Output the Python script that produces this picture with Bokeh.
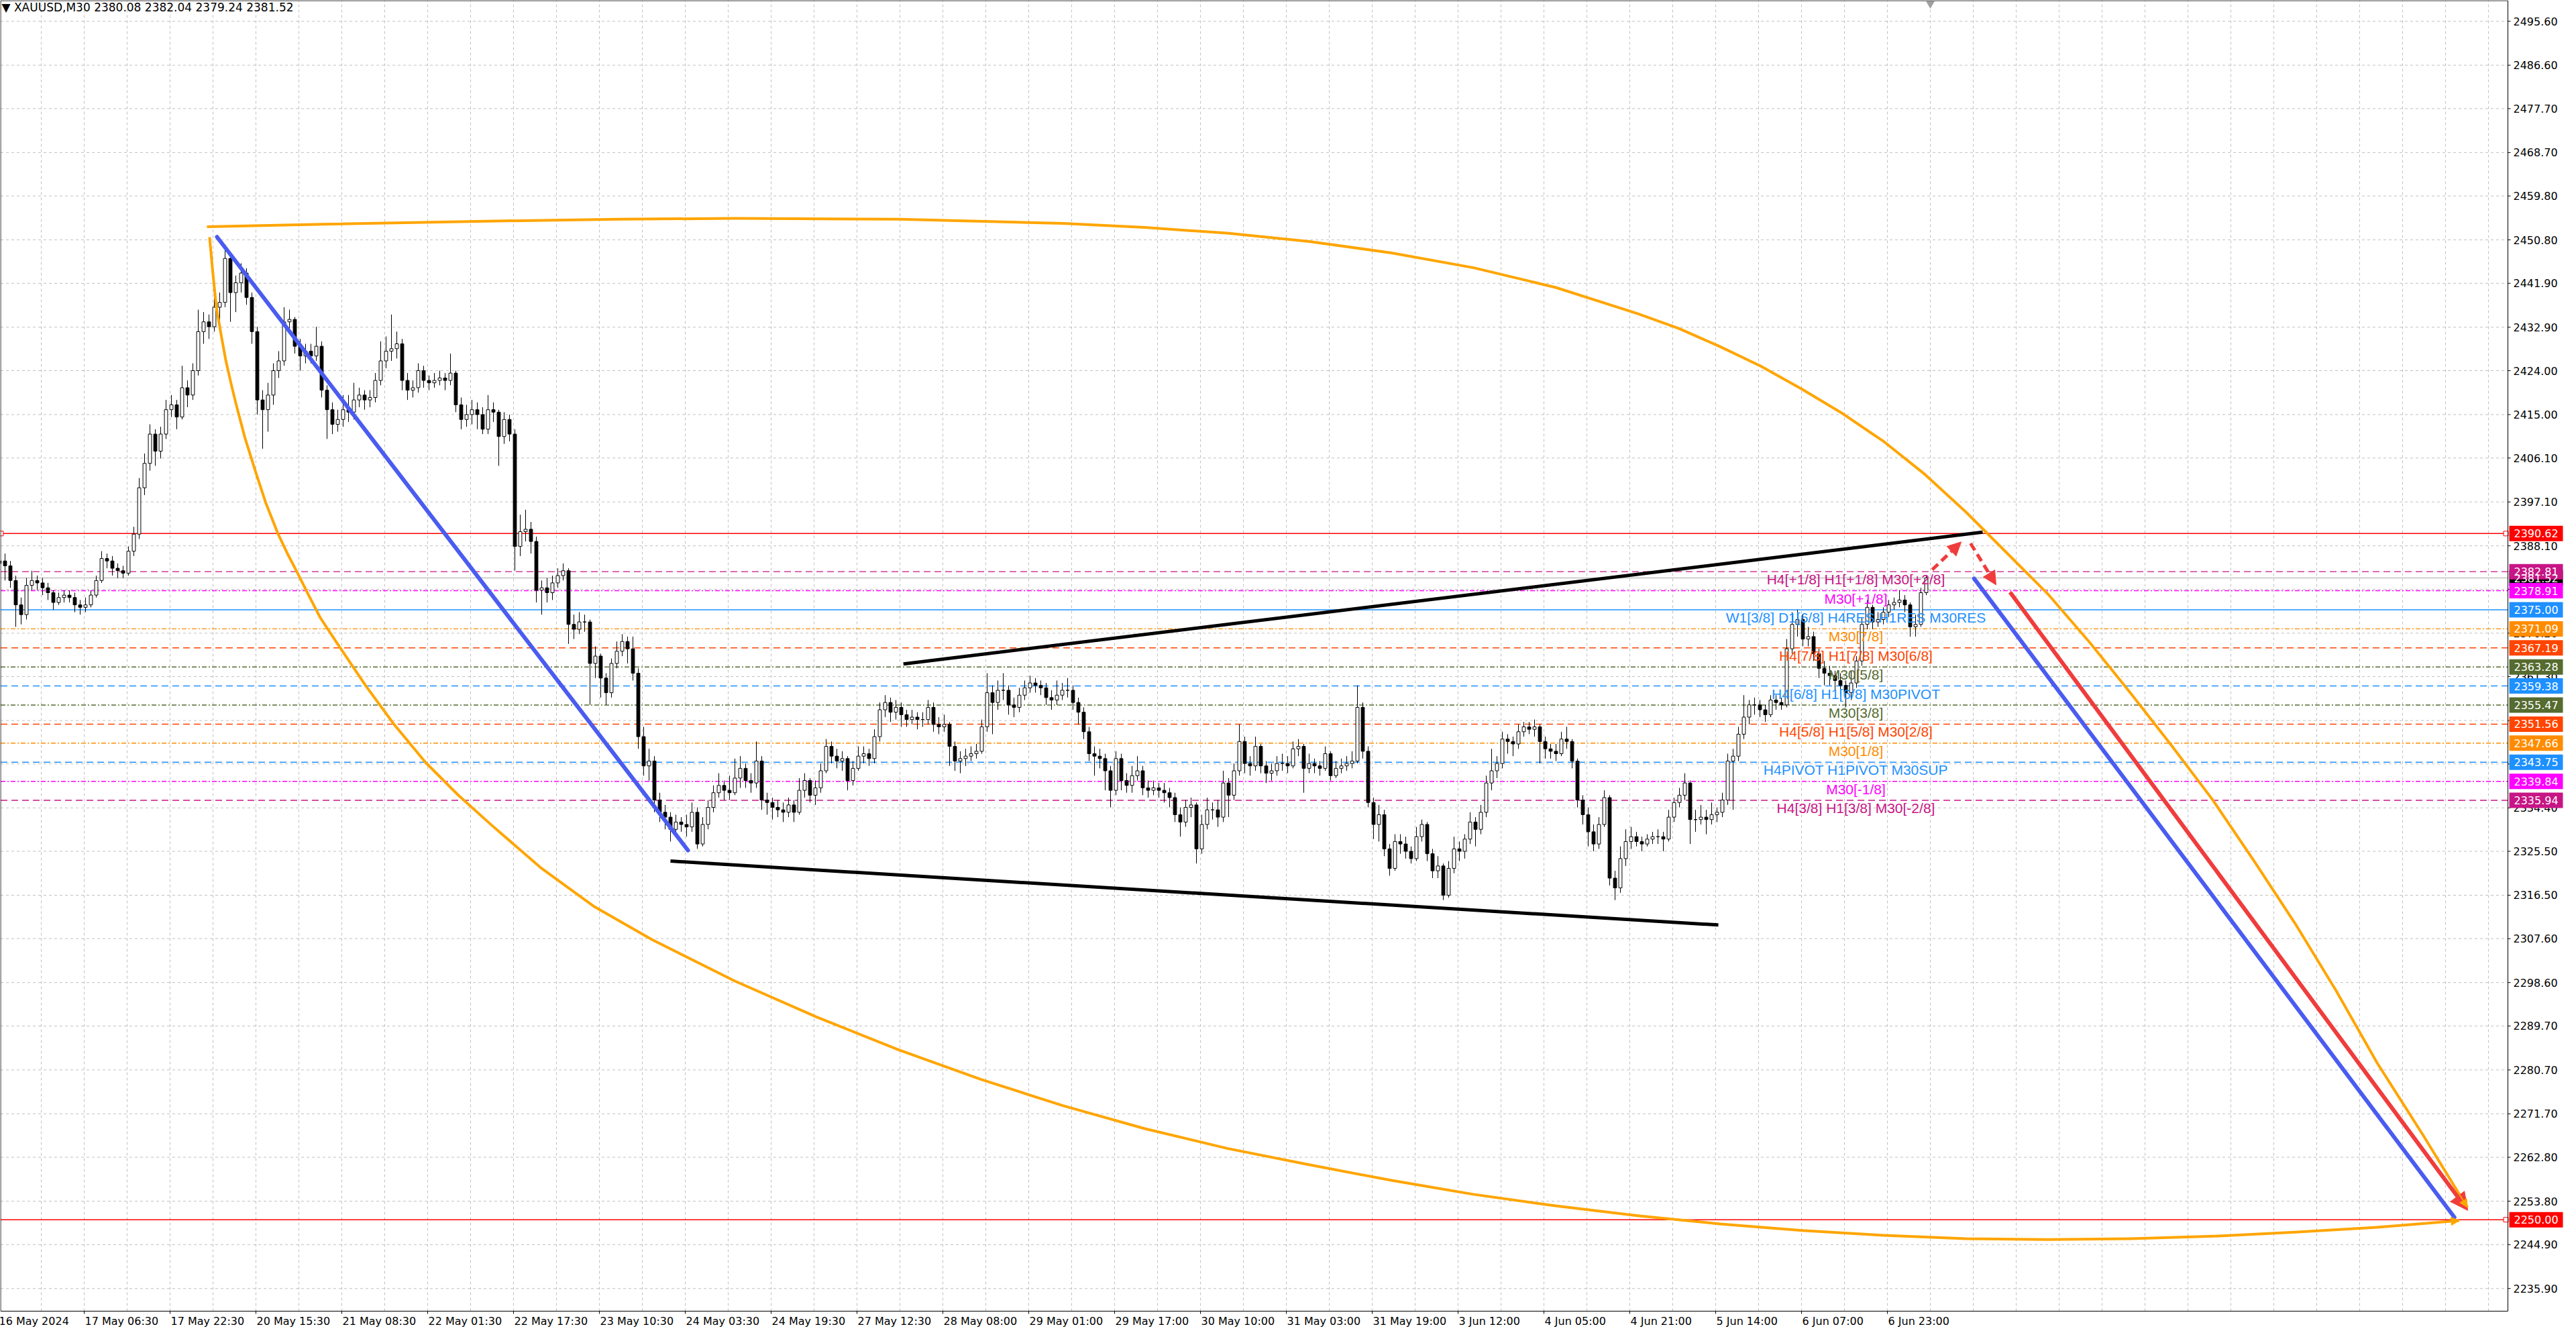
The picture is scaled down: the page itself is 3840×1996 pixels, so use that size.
from bokeh.plotting import figure
from bokeh.models import ColumnDataSource, Arrow, NormalHead, Range1d
from bokeh.core.properties import value
from bokeh.embed import file_html
from bokeh.resources import INLINE

# ------------------------------------------------------------------ data
header_text = "\u25BC  XAUUSD,M30  2380.08 2382.04 2379.24 2381.52"
first_open = 2384.5

close = [
    2385.0, 2384.0, 2381.0, 2376.0, 2374.0, 2380.0, 2381.0, 2380.5, 2379.5, 2378.5,
    2376.5, 2377.5, 2378.0, 2377.5, 2376.0, 2375.5, 2376.0, 2378.0, 2381.0, 2385.5,
    2385.0, 2383.5, 2383.0, 2382.5, 2387.0, 2390.5, 2400.0, 2405.0, 2411.0, 2407.5,
    2411.0, 2416.0, 2417.0, 2414.5, 2420.5, 2419.0, 2424.0, 2432.0, 2434.0, 2433.0,
    2437.0, 2438.0, 2447.0, 2440.0, 2442.0, 2444.0, 2439.0, 2432.0, 2418.0, 2416.0,
    2419.0, 2424.0, 2426.0, 2434.0, 2434.5, 2429.0, 2427.0, 2428.0, 2427.0, 2429.0,
    2420.0, 2416.0, 2413.0, 2414.0, 2416.0, 2415.5, 2418.0, 2419.0, 2418.0, 2418.5,
    2422.0, 2426.0, 2428.0, 2428.5, 2429.5, 2422.0, 2420.0, 2420.5, 2424.0, 2422.0,
    2421.5, 2422.0, 2422.5, 2422.0, 2423.5, 2417.0, 2414.0, 2415.0, 2416.0, 2415.0,
    2412.0, 2416.0, 2415.5, 2410.5, 2414.0, 2411.0, 2388.0, 2391.0, 2391.5, 2389.0,
    2379.0, 2379.5, 2378.5, 2380.5, 2382.0, 2383.0, 2372.0, 2371.0, 2372.5, 2372.5,
    2364.0, 2365.5, 2361.0, 2358.0, 2364.0, 2366.5, 2368.5, 2367.0, 2362.0, 2349.0,
    2343.0, 2344.0, 2336.0, 2333.5, 2332.5, 2330.0, 2331.5, 2331.0, 2330.5, 2333.5,
    2327.0, 2331.0, 2334.5, 2337.5, 2339.0, 2338.0, 2337.5, 2340.5, 2342.5, 2340.0,
    2339.5, 2344.0, 2336.0, 2335.5, 2334.5, 2334.0, 2333.5, 2335.0, 2333.5, 2338.0,
    2340.0, 2337.0, 2338.5, 2342.0, 2347.0, 2345.0, 2344.0, 2344.5, 2340.0, 2342.5,
    2345.0, 2345.5, 2344.5, 2349.0, 2354.5, 2356.0, 2354.0, 2355.0, 2353.5, 2352.5,
    2353.0, 2352.5, 2352.5, 2355.0, 2351.5, 2351.0, 2351.5, 2347.0, 2344.0, 2344.5,
    2345.0, 2345.5, 2346.0, 2351.0, 2358.0, 2356.0, 2358.5, 2358.5, 2355.5, 2355.0,
    2357.5, 2359.0, 2360.0, 2359.5, 2359.0, 2357.0, 2356.5, 2357.5, 2358.5, 2358.5,
    2356.0, 2354.0, 2350.0, 2345.5, 2345.0, 2344.5, 2342.0, 2338.0, 2344.5, 2340.0,
    2339.0, 2341.0, 2342.0, 2338.5, 2338.0, 2338.5, 2338.0, 2337.5, 2336.5, 2333.0,
    2331.5, 2334.5, 2335.0, 2326.0, 2331.0, 2334.0, 2334.0, 2332.5, 2339.5, 2337.0,
    2342.0, 2348.0, 2343.5, 2343.0, 2347.0, 2343.0, 2341.5, 2342.0, 2343.5, 2343.5,
    2343.0, 2346.5, 2347.0, 2342.5, 2343.5, 2343.0, 2342.5, 2345.5, 2341.0, 2342.5,
    2343.0, 2343.5, 2344.0, 2355.0, 2346.0, 2335.5, 2331.0, 2333.0, 2326.0, 2322.0,
    2327.5, 2327.0, 2325.5, 2324.0, 2328.5, 2331.0, 2325.0, 2321.5, 2322.5, 2316.5,
    2322.0, 2326.0, 2325.5, 2328.0, 2331.5, 2330.0, 2333.5, 2339.5, 2342.0, 2343.5,
    2348.5, 2348.0, 2347.5, 2350.0, 2351.0, 2350.5, 2351.0, 2348.0, 2346.5, 2346.0,
    2345.5, 2348.5, 2348.0, 2344.0, 2336.0, 2333.0, 2329.5, 2327.0, 2331.0, 2336.5,
    2320.0, 2318.0, 2324.0, 2327.5, 2328.5, 2327.5, 2327.0, 2328.0, 2328.5, 2328.5,
    2328.0, 2332.5, 2335.5, 2337.0, 2339.5, 2332.0, 2332.0, 2332.5, 2332.0, 2333.0,
    2333.5, 2336.0, 2344.0, 2345.0, 2349.5, 2353.0, 2355.5, 2355.5, 2354.5, 2353.5,
    2356.5, 2356.0, 2355.5, 2367.0, 2372.0, 2373.0, 2369.0, 2369.5, 2366.0, 2363.0,
    2362.0, 2361.5, 2360.5, 2359.5, 2358.0, 2360.0, 2364.5, 2372.0, 2375.5, 2372.5,
    2373.0, 2374.5, 2376.0, 2376.5, 2377.0, 2376.0, 2371.5, 2372.0, 2378.5, 2381.52,
]

high = [
    2387.0, 2386.5, 2385.0, 2382.0, 2377.5, 2381.5, 2383.0, 2382.0, 2381.5, 2380.5,
    2379.0, 2378.5, 2379.0, 2379.0, 2378.5, 2377.0, 2377.5, 2379.0, 2382.0, 2387.0,
    2386.5, 2386.0, 2384.5, 2384.0, 2388.0, 2392.0, 2402.0, 2407.0, 2413.0, 2412.0,
    2412.5, 2418.0, 2419.0, 2418.0, 2425.0, 2422.0, 2425.5, 2436.5, 2436.0, 2435.5,
    2439.0, 2440.0, 2449.8, 2448.0, 2443.5, 2446.0, 2445.0, 2440.0, 2433.0, 2420.0,
    2421.5, 2425.5, 2428.0, 2437.0, 2436.5, 2435.0, 2430.5, 2429.5, 2429.5, 2433.0,
    2430.0, 2421.0, 2417.5, 2416.0, 2419.0, 2419.0, 2421.5, 2420.5, 2420.0, 2420.0,
    2423.5, 2430.0, 2431.0, 2435.5, 2432.0, 2430.5, 2423.5, 2422.0, 2425.5, 2425.0,
    2423.0, 2423.5, 2424.0, 2423.5, 2427.5, 2424.0, 2418.5, 2417.0, 2418.0, 2417.5,
    2416.5, 2419.0, 2417.5, 2416.0, 2415.5, 2415.0, 2412.0, 2394.5, 2395.5, 2393.0,
    2390.0, 2381.0, 2381.5, 2382.0, 2383.5, 2384.5, 2383.5, 2374.0, 2374.5, 2374.0,
    2373.0, 2367.5, 2366.0, 2362.0, 2365.0, 2368.5, 2370.0, 2369.5, 2369.5, 2363.0,
    2351.0, 2346.5, 2345.0, 2337.5, 2335.0, 2333.5, 2333.0, 2332.5, 2333.0, 2335.5,
    2334.5, 2332.5, 2336.0, 2339.0, 2341.5, 2340.0, 2341.0, 2344.5, 2345.0, 2343.5,
    2341.5, 2348.0, 2345.0, 2337.5, 2336.5, 2336.0, 2335.5, 2336.5, 2336.0, 2340.5,
    2341.5, 2340.5, 2340.0, 2343.5, 2348.5, 2348.0, 2346.5, 2346.0, 2345.0, 2344.0,
    2347.0, 2347.0, 2346.5, 2350.5, 2356.0, 2357.5, 2357.0, 2356.5, 2356.0, 2354.5,
    2354.5, 2354.0, 2354.0, 2356.5, 2356.0, 2353.0, 2353.5, 2352.0, 2348.0, 2346.0,
    2346.5, 2347.0, 2347.5, 2352.5, 2362.0, 2359.5, 2360.5, 2362.0, 2359.5, 2357.0,
    2359.0, 2360.5, 2361.5, 2361.0, 2360.5, 2360.0, 2358.5, 2360.5, 2360.0, 2361.0,
    2359.5, 2357.0, 2355.0, 2351.0, 2347.0, 2346.5, 2345.5, 2343.0, 2346.0, 2345.5,
    2341.5, 2343.0, 2345.0, 2343.0, 2340.0, 2340.0, 2339.5, 2339.5, 2338.5, 2337.5,
    2334.5, 2336.0, 2336.5, 2335.5, 2333.0, 2336.5, 2335.5, 2336.0, 2342.0, 2340.5,
    2343.5, 2351.5, 2349.0, 2345.0, 2349.0, 2347.5, 2344.0, 2343.5, 2345.0, 2345.5,
    2345.0, 2348.0, 2348.5, 2347.5, 2345.5, 2344.5, 2344.0, 2347.0, 2346.0, 2344.0,
    2344.5, 2345.0, 2346.0, 2359.5, 2356.0, 2347.0, 2336.5, 2335.0, 2334.0, 2327.0,
    2329.0, 2329.0, 2328.5, 2326.5, 2330.5, 2332.0, 2331.5, 2326.0, 2324.5, 2323.0,
    2323.5, 2328.5, 2327.5, 2329.0, 2333.5, 2332.5, 2335.0, 2341.0, 2346.5, 2345.0,
    2350.0, 2349.5, 2349.0, 2351.5, 2352.0, 2352.0, 2352.5, 2351.5, 2349.0, 2347.5,
    2347.5, 2350.0, 2351.0, 2348.5, 2344.5, 2337.0, 2334.5, 2331.0, 2332.5, 2338.0,
    2337.0, 2321.5, 2326.5, 2330.0, 2330.5, 2329.5, 2328.5, 2329.0, 2329.5, 2330.0,
    2329.5, 2334.0, 2336.5, 2338.5, 2341.5, 2340.0, 2334.0, 2335.0, 2334.0, 2335.5,
    2334.5, 2337.5, 2345.5, 2346.5, 2351.0, 2357.5, 2356.5, 2357.0, 2356.5, 2355.5,
    2357.5, 2357.5, 2357.0, 2369.0, 2374.5, 2375.0, 2374.0, 2371.5, 2370.5, 2367.0,
    2364.5, 2363.5, 2362.5, 2362.0, 2360.5, 2362.5, 2365.5, 2373.5, 2377.0, 2376.0,
    2374.5, 2375.5, 2377.0, 2377.5, 2379.0, 2378.0, 2376.5, 2374.0, 2379.5, 2382.04,
]

low = [
    2382.5, 2381.0, 2379.5, 2371.5, 2372.0, 2373.0, 2379.0, 2379.0, 2378.0, 2377.0,
    2375.0, 2376.0, 2376.5, 2376.5, 2374.5, 2374.0, 2374.5, 2375.5, 2377.5, 2380.5,
    2383.5, 2382.0, 2381.5, 2381.5, 2382.0, 2386.0, 2389.5, 2398.5, 2403.5, 2404.5,
    2406.0, 2410.0, 2414.5, 2412.0, 2414.0, 2416.5, 2418.0, 2423.0, 2429.5, 2430.5,
    2432.0, 2434.0, 2437.0, 2434.0, 2436.0, 2440.0, 2437.5, 2429.5, 2415.0, 2408.0,
    2411.5, 2417.0, 2422.5, 2425.0, 2432.0, 2427.5, 2424.0, 2425.5, 2425.5, 2426.0,
    2418.5, 2410.0, 2411.0, 2411.5, 2412.5, 2413.5, 2414.0, 2416.5, 2416.0, 2416.5,
    2417.5, 2421.0, 2424.5, 2426.0, 2426.5, 2420.0, 2418.0, 2418.5, 2419.5, 2420.5,
    2420.0, 2420.5, 2421.0, 2420.0, 2421.0, 2415.5, 2412.0, 2412.5, 2413.0, 2412.0,
    2411.0, 2411.0, 2413.5, 2404.5, 2409.0, 2409.5, 2383.0, 2386.0, 2389.0, 2386.5,
    2376.5, 2374.0, 2376.5, 2377.0, 2379.5, 2381.0, 2368.0, 2369.0, 2370.0, 2370.5,
    2355.5, 2361.0, 2357.0, 2355.5, 2357.0, 2363.0, 2365.5, 2364.0, 2360.5, 2346.5,
    2341.0, 2340.0, 2333.5, 2331.5, 2330.0, 2327.5, 2329.0, 2329.5, 2328.5, 2329.5,
    2326.0, 2326.5, 2330.0, 2333.5, 2336.5, 2336.0, 2336.0, 2337.0, 2338.5, 2338.5,
    2337.5, 2338.5, 2334.0, 2333.0, 2332.0, 2332.5, 2331.5, 2332.5, 2331.5, 2333.0,
    2336.5, 2335.5, 2335.0, 2337.5, 2341.5, 2343.5, 2342.5, 2342.0, 2338.0, 2339.0,
    2342.0, 2343.5, 2343.0, 2343.5, 2348.0, 2353.0, 2352.0, 2352.5, 2351.0, 2351.0,
    2351.5, 2350.5, 2351.0, 2351.5, 2350.0, 2349.5, 2350.0, 2343.0, 2342.0, 2341.5,
    2343.0, 2344.0, 2344.5, 2345.5, 2350.0, 2349.5, 2354.5, 2356.5, 2353.5, 2353.0,
    2354.0, 2356.5, 2358.0, 2358.0, 2357.5, 2355.5, 2354.5, 2355.5, 2356.5, 2357.0,
    2354.5, 2351.5, 2348.5, 2344.0, 2341.0, 2342.5, 2338.0, 2334.5, 2337.0, 2338.0,
    2337.5, 2337.5, 2340.0, 2337.0, 2336.5, 2337.0, 2336.5, 2335.5, 2334.5, 2331.5,
    2328.5, 2330.5, 2332.5, 2323.0, 2325.0, 2330.0, 2332.0, 2330.5, 2331.5, 2332.5,
    2336.0, 2341.0, 2341.5, 2341.0, 2342.0, 2341.5, 2339.5, 2340.0, 2341.0, 2342.0,
    2341.5, 2342.5, 2345.0, 2337.5, 2341.5, 2341.5, 2341.0, 2342.0, 2340.0, 2340.5,
    2341.5, 2342.0, 2342.5, 2343.5, 2344.5, 2334.5, 2328.0, 2327.5, 2324.5, 2320.5,
    2321.5, 2325.0, 2324.0, 2323.0, 2323.5, 2327.5, 2323.5, 2320.0, 2320.0, 2315.5,
    2316.0, 2321.0, 2323.5, 2324.0, 2327.0, 2326.5, 2329.0, 2332.5, 2338.0, 2340.5,
    2342.5, 2345.5, 2345.0, 2346.5, 2349.0, 2349.5, 2349.0, 2343.5, 2344.5, 2344.5,
    2344.0, 2345.0, 2346.5, 2342.5, 2334.5, 2331.0, 2326.5, 2325.5, 2326.0, 2330.5,
    2318.5, 2315.5, 2317.0, 2322.5, 2326.0, 2326.5, 2325.5, 2326.5, 2327.0, 2327.0,
    2325.5, 2327.5, 2331.5, 2334.5, 2336.0, 2327.0, 2329.5, 2331.0, 2329.0, 2331.0,
    2331.5, 2332.5, 2335.0, 2334.0, 2344.0, 2348.5, 2351.5, 2353.5, 2353.0, 2352.0,
    2353.0, 2354.5, 2354.5, 2355.0, 2366.0, 2369.5, 2367.5, 2367.5, 2364.5, 2361.0,
    2359.5, 2359.5, 2358.5, 2357.5, 2355.0, 2356.5, 2359.0, 2363.5, 2371.0, 2371.0,
    2371.5, 2372.0, 2373.5, 2375.0, 2375.5, 2374.5, 2369.5, 2369.5, 2371.5, 2378.0,
]

date_labels = [
    "16 May 2024", "17 May 06:30", "17 May 22:30", "20 May 15:30", "21 May 08:30",
    "22 May 01:30", "22 May 17:30", "23 May 10:30", "24 May 03:30", "24 May 19:30",
    "27 May 12:30", "28 May 08:00", "29 May 01:00", "29 May 17:00", "30 May 10:00",
    "31 May 03:00", "31 May 19:00", "3 Jun 12:00", "4 Jun 05:00", "4 Jun 21:00",
    "5 Jun 14:00", "6 Jun 07:00", "6 Jun 23:00",
]
bars_per_date_label = 16   # hourly bars between two time labels

price_tick_labels = [
    "2495.60", "2486.60", "2477.70", "2468.70", "2459.80", "2450.80", "2441.90",
    "2432.90", "2424.00", "2415.00", "2406.10", "2397.10", "2388.10", "2379.20",
    "2370.20", "2361.30", "2352.30", "2343.40", "2334.40", "2325.50", "2316.50",
    "2307.60", "2298.60", "2289.70", "2280.70", "2271.70", "2262.80", "2253.80",
    "2244.90", "2235.90",
]

# Murrey-math levels (price, caption, colour, style)
level_prices = [2382.81, 2378.91, 2375.00, 2371.09, 2367.19, 2363.28, 2359.38,
                2355.47, 2351.56, 2347.66, 2343.75, 2339.84, 2335.94]
level_names = ["H4[+1/8] H1[+1/8] M30[+2/8]", "M30[+1/8]",
               "W1[3/8] D1[6/8] H4RES H1RES M30RES", "M30[7/8]",
               "H4[7/8] H1[7/8] M30[6/8]", "M30[5/8]", "H4[6/8] H1[6/8] M30PIVOT",
               "M30[3/8]", "H4[5/8] H1[5/8] M30[2/8]", "M30[1/8]",
               "H4PIVOT H1PIVOT M30SUP", "M30[-1/8]", "H4[3/8] H1[3/8] M30[-2/8]"]
level_colors = ["#C71585", "#FF00FF", "#1E90FF", "#FF8C00", "#FF4500", "#556B2F",
                "#1E90FF", "#556B2F", "#FF4500", "#FF8C00", "#1E90FF", "#FF00FF",
                "#C71585"]
level_styles = ["dash", "dashdot", "solid", "dashdot", "dash", "dashdot", "dash",
                "dashdot", "dash", "dashdot", "dash", "dashdot", "dash"]

red_levels = [2390.62, 2250.00]
bid_price = 2381.52

# drawn objects: (bar index, price)
blue_trend_x, blue_trend_y = [40.5, 128.25], [2451.4, 2325.7]
blue_fc_x, blue_fc_y = [367.9, 457.4], [2381.4, 2250.5]
red_fc_x, red_fc_y = [374.6, 459.9], [2378.6, 2251.9]
red_up_x, red_up_y = [360.1, 365.5], [2383.2, 2388.9]
red_dn_x, red_dn_y = [367.25, 372.0], [2388.6, 2380.1]
chan_top_x, chan_top_y = [168.4, 369.5], [2363.9, 2390.9]
chan_bot_x, chan_bot_y = [125.0, 320.25], [2323.5, 2310.4]

arc_top_x = [38.62, 60.35, 94.02, 115.45, 136.88, 167.49, 198.11, 213.41, 228.72,
             244.03, 259.33, 274.64, 289.94, 305.25, 312.90, 320.56, 328.21, 335.86,
             343.52, 351.17, 358.82, 366.48, 374.13, 381.78, 389.43, 397.09, 404.74,
             412.39, 420.05, 427.70, 435.36, 443.01, 451.58, 459.84]
arc_top_y = [2453.48, 2454.02, 2454.69, 2455.03, 2455.20, 2455.03, 2454.19, 2453.34,
             2452.17, 2450.48, 2448.13, 2445.09, 2441.05, 2435.67, 2432.64, 2428.93,
             2424.89, 2420.18, 2415.13, 2409.40, 2402.67, 2394.93, 2386.51, 2378.09,
             2368.33, 2357.89, 2347.12, 2336.00, 2323.55, 2310.75, 2296.95, 2282.13,
             2267.32, 2252.50]
arc_bot_x = [39.11, 39.69, 40.36, 41.22, 42.11, 43.05, 43.97, 45.66, 47.62, 49.63,
             51.87, 53.62, 55.45, 57.60, 59.74, 63.38, 68.25, 73.51, 79.33, 85.45,
             91.57, 100.76, 110.86, 121.58, 136.88, 152.19, 167.49, 182.80, 198.11,
             213.41, 228.72, 244.03, 259.33, 274.64, 289.94, 305.25, 320.56, 335.86,
             351.17, 366.48, 381.78, 397.09, 412.39, 427.70, 443.01, 458.31]
arc_bot_y = [2451.36, 2444.42, 2437.18, 2431.63, 2426.24, 2421.69, 2417.49, 2410.41,
             2403.51, 2396.78, 2390.55, 2386.51, 2382.64, 2377.92, 2373.38, 2367.32,
             2359.37, 2351.49, 2343.75, 2337.01, 2330.95, 2322.20, 2314.12, 2307.38,
             2298.97, 2291.56, 2284.83, 2278.77, 2273.38, 2268.66, 2264.62, 2261.26,
             2258.06, 2255.20, 2252.84, 2250.82, 2249.14, 2247.79, 2246.78, 2246.11,
             2245.94, 2246.11, 2246.61, 2247.45, 2248.46, 2249.81]

# ------------------------------------------------------------------ layout
W, H = 3824, 1984          # figure = plotting frame (page starts at 8,8)
PX_PER_BAR = 8.0
PX_PER_PRICE = 7.274
REF_PRICE, REF_PY = 2495.6, 39.2


def xpix(px):      # page pixel -> bar coordinate
    return (px - 7.0) / PX_PER_BAR


def ypix(py):      # page pixel -> price coordinate
    return REF_PRICE - (py - REF_PY) / PX_PER_PRICE


X_START, X_END = xpix(8), xpix(8 + W)
Y_TOP, Y_BOTTOM = ypix(8), ypix(8 + H)
CX0, CX1 = xpix(8.5), xpix(3746)          # chart area left / right (axis line)
CY1, CY0 = ypix(8.5), ypix(1962)          # chart area top / bottom (axis line)

FONT_AXIS = "DejaVu Sans"
FONT_TEXT = "Liberation Sans"
RED = "#F03C3C"
BLUE = "#4A5CF0"
ORANGE = "#FFA500"
GRID = "#C0C0C0"
DASHES = {"dash": "10 6", "dashdot": "7 3 2 3", "solid": "solid"}
LEVEL_W = 1.4

p = figure(frame_width=W, frame_height=H,
           x_range=Range1d(X_START, X_END), y_range=Range1d(Y_BOTTOM, Y_TOP),
           x_axis_location=None, y_axis_location=None,
           output_backend="svg", toolbar_location=None, tools="",
           min_border=0, background_fill_color="white", border_fill_color="white")
p.outline_line_color = None
p.grid.visible = False

# grid (inside chart area only)
price_ticks = [float(s) for s in price_tick_labels]
date_ticks = [i * bars_per_date_label - 0.25 for i in range(len(date_labels))]
grid_x = [j * bars_per_date_label / 2 - 0.25 for j in range(int(CX1 // 8) + 1)]
grid_x = [g for g in grid_x if CX0 < g < CX1]
p.segment(x0=grid_x, y0=[CY0] * len(grid_x), x1=grid_x, y1=[CY1] * len(grid_x),
          line_color=GRID, line_width=1, line_dash="4 4")
p.segment(x0=[CX0] * len(price_ticks), y0=price_ticks, x1=[CX1] * len(price_ticks),
          y1=price_ticks, line_color=GRID, line_width=1, line_dash="4 4")

# horizontal levels
for lv, col, sty in zip(level_prices, level_colors, level_styles):
    p.segment(x0=[CX0], y0=[lv], x1=[CX1], y1=[lv], line_color=col, line_width=LEVEL_W,
              line_dash=DASHES[sty])
p.segment(x0=[CX0] * 2, y0=red_levels, x1=[CX1] * 2, y1=red_levels,
          line_color="#FF0000", line_width=LEVEL_W)
p.segment(x0=[CX0], y0=[bid_price], x1=[CX1], y1=[bid_price], line_color=GRID,
          line_width=LEVEL_W)

# candles
opens = [first_open] + close[:-1]
xs = list(range(len(close)))
src = ColumnDataSource(dict(
    x=xs, high=high, low=low,
    top=[max(o, c) for o, c in zip(opens, close)],
    bottom=[min(o, c) for o, c in zip(opens, close)],
    fill=["white" if c >= o else "black" for o, c in zip(opens, close)],
))
p.segment(x0="x", y0="low", x1="x", y1="high", source=src, line_color="black", line_width=1)
p.vbar(x="x", width=0.6, top="top", bottom="bottom", source=src,
       fill_color="fill", line_color="black", line_width=1)

# level captions
LABEL_X = xpix(2774)
p.text(x=[LABEL_X] * len(level_prices), y=level_prices, text=level_names,
       text_color=level_colors, text_align="center", text_baseline="top",
       text_font=value(FONT_TEXT), text_font_size="21px")

# trend lines / channel / arcs
p.line(blue_trend_x, blue_trend_y, line_color=BLUE, line_width=6, line_cap="round")
p.line(blue_fc_x, blue_fc_y, line_color=BLUE, line_width=6, line_cap="round")
p.line(chan_top_x, chan_top_y, line_color="black", line_width=5)
p.line(chan_bot_x, chan_bot_y, line_color="black", line_width=5)
p.line(arc_top_x, arc_top_y, line_color=ORANGE, line_width=4, line_join="round")
p.line(arc_bot_x, arc_bot_y, line_color=ORANGE, line_width=4, line_join="round")

# arrows
p.add_layout(Arrow(end=NormalHead(size=26, fill_color=RED, line_color=RED),
                   x_start=red_fc_x[0], y_start=red_fc_y[0], x_end=red_fc_x[1], y_end=red_fc_y[1],
                   line_color=RED, line_width=6))
for ax, ay in ((red_up_x, red_up_y), (red_dn_x, red_dn_y)):
    p.add_layout(Arrow(end=NormalHead(size=20, fill_color=RED, line_color=RED),
                       x_start=ax[0], y_start=ay[0], x_end=ax[1], y_end=ay[1],
                       line_color=RED, line_width=5, line_dash="12 7"))
for axs, ays in ((arc_top_x, arc_top_y), (arc_bot_x, arc_bot_y)):
    p.add_layout(Arrow(end=NormalHead(size=12, fill_color=ORANGE, line_color=ORANGE),
                       x_start=axs[-2], y_start=ays[-2], x_end=axs[-1], y_end=ays[-1],
                       line_color=ORANGE, line_width=2))

# small anchor squares and chart-shift marker
p.scatter(x=[xpix(9), xpix(3743)], y=[red_levels[0]] * 2, marker="square", size=7,
          fill_color="white", line_color="#FF0000")
p.scatter(x=[xpix(3743)], y=[red_levels[1]], marker="square", size=7,
          fill_color="white", line_color="#FF0000")
p.scatter(x=[len(close) - 0.25], y=[ypix(13)], marker="inverted_triangle",
          size=13, fill_color="#A0A0A0", line_color=None)

# chart border and axis lines
p.segment(x0=[CX0, CX0, CX0, CX1], y0=[CY1, CY0, CY0, CY0],
          x1=[CX1, CX1, CX0, CX1], y1=[CY1, CY0, CY1, CY1],
          line_color="black", line_width=1)

# header
p.text(x=[xpix(10)], y=[ypix(18)], text=[header_text], text_color="black",
       text_align="left", text_baseline="middle",
       text_font=value(FONT_AXIS), text_font_size="17px")

# price scale: ticks + labels
n = len(price_ticks)
p.segment(x0=[CX1] * n, y0=price_ticks, x1=[xpix(3750)] * n, y1=price_ticks,
          line_color="black", line_width=1)
p.text(x=[xpix(3754)] * n, y=price_ticks, text=price_tick_labels, text_color="black",
       text_align="left", text_baseline="middle",
       text_font=value(FONT_AXIS), text_font_size="16px")

# time scale: ticks + labels
m = len(date_ticks)
p.segment(x0=date_ticks, y0=[CY0] * m, x1=date_ticks, y1=[ypix(1966)] * m,
          line_color="black", line_width=1)
p.text(x=[t + 1.0 / PX_PER_BAR for t in date_ticks], y=[ypix(1977)] * m, text=date_labels,
       text_color="black", text_align="left", text_baseline="middle",
       text_font=value(FONT_AXIS), text_font_size="16px")

# coloured price boxes on the price scale
box_prices = [bid_price, red_levels[0]] + level_prices + [red_levels[1]]
box_colors = ["black", "#FF0000"] + level_colors + ["#FF0000"]
half_h = 11.5 / PX_PER_PRICE
p.quad(left=[xpix(3748)] * len(box_prices), right=[xpix(3828)] * len(box_prices),
       top=[b + half_h for b in box_prices], bottom=[b - half_h for b in box_prices],
       fill_color=box_colors, line_color=None)
p.text(x=[xpix(3755)] * len(box_prices), y=box_prices,
       text=[f"{b:.2f}" for b in box_prices], text_color="white",
       text_align="left", text_baseline="middle",
       text_font=value(FONT_AXIS), text_font_size="16px")

open("out.html", "w").write(file_html(p, INLINE))
